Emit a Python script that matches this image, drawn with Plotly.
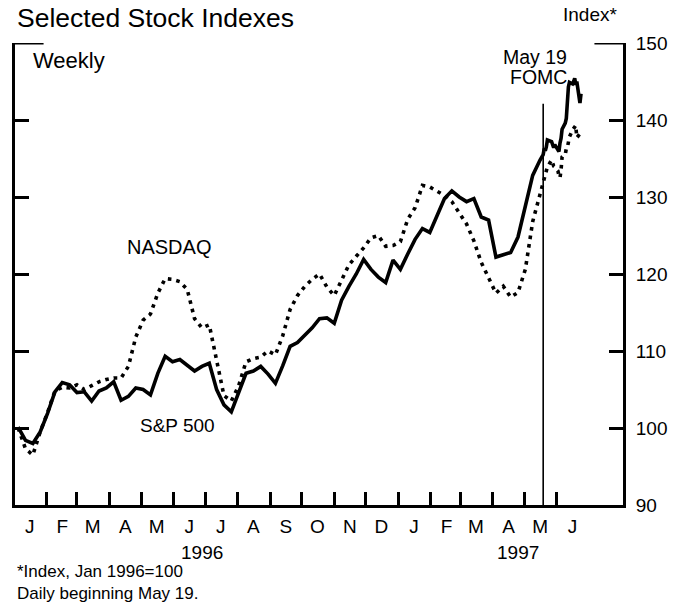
import plotly.graph_objects as go
import pandas as pd

# ---------------- data ----------------
weekly_dates = pd.date_range("1996-01-05", periods=72, freq="7D")

sp500_weekly = [100.1, 98.4, 98.0, 99.5, 101.9, 104.7, 105.9, 105.6, 104.6, 104.7,
                103.5, 104.8, 105.2, 106.0, 103.6, 104.1, 105.2, 105.0, 104.3, 107.1,
                109.3, 108.6, 108.9, 108.2, 107.4, 108.0, 108.4, 105.0, 103.0, 102.1,
                104.5, 107.1, 107.4, 108.0, 107.0, 105.8, 108.1, 110.6, 111.1, 112.0,
                113.0, 114.2, 114.3, 113.6, 116.6, 118.4, 120.0, 121.9, 120.6, 119.6,
                118.9, 121.8, 120.6, 122.6, 124.5, 125.9, 125.4, 127.6, 129.8, 130.8,
                130.0, 129.4, 129.8, 127.4, 127.0, 122.2, 122.5, 122.8, 124.8, 128.6,
                132.8, 134.8]

nasdaq_weekly = [100.0, 97.3, 96.5, 99.5, 102.0, 104.8, 105.3, 105.2, 105.6, 105.0,
                 105.5, 106.0, 106.3, 106.5, 106.5, 108.0, 111.8, 114.0, 114.8, 117.5,
                 119.4, 119.3, 119.0, 118.0, 114.2, 113.0, 113.4, 108.6, 104.2, 103.5,
                 105.5, 108.6, 109.0, 109.2, 110.0, 109.5, 112.0, 115.4, 117.2, 118.4,
                 119.3, 120.0, 118.3, 117.2, 119.1, 121.2, 122.3, 123.4, 124.7, 125.0,
                 123.6, 123.7, 124.2, 127.1, 128.6, 131.5, 131.3, 130.8, 130.2, 129.4,
                 127.9, 126.5, 124.3, 121.5, 119.5, 117.5, 118.4, 117.0, 117.6, 120.6,
                 126.8, 130.3]

daily_dates = ["1997-05-19", "1997-05-20", "1997-05-21", "1997-05-22", "1997-05-23",
               "1997-05-27", "1997-05-28", "1997-05-29", "1997-05-30",
               "1997-06-02", "1997-06-03", "1997-06-04", "1997-06-05", "1997-06-06",
               "1997-06-09", "1997-06-10", "1997-06-11", "1997-06-12", "1997-06-13",
               "1997-06-16", "1997-06-17", "1997-06-18", "1997-06-19", "1997-06-20",
               "1997-06-23", "1997-06-24"]

sp500_daily = [135.5, 136.3, 136.0, 136.5, 137.4,
               137.2, 136.8, 136.4, 136.8,
               136.1, 135.9, 137.0, 137.6, 138.8,
               139.6, 140.2, 142.8, 144.3, 144.9,
               144.7, 145.0, 145.4, 144.6, 145.0,
               142.2, 143.4]

nasdaq_daily = [131.5, 132.2, 132.8, 133.3, 133.9,
                134.8, 134.3, 134.0, 133.9,
                133.4, 132.8, 132.5, 133.5, 135.2,
                135.5, 136.3, 136.4, 137.2, 137.8,
                138.7, 138.9, 139.1, 139.3, 137.7,
                138.2, 138.7]

month_letters = ["J", "F", "M", "A", "M", "J", "J", "A", "S", "O", "N", "D",
                 "J", "F", "M", "A", "M", "J"]
month_starts = pd.date_range("1996-01-01", periods=18, freq="MS")
month_label_pos = [d + pd.Timedelta(days=15) for d in month_starts]
month_tick_pos = list(month_starts[1:])

y_ticks = [90, 100, 110, 120, 130, 140, 150]
fomc_date = "1997-05-19"

x_range = ["1996-01-02", "1997-08-03"]
FONT = "Liberation Sans, Arial, Helvetica, sans-serif"

# ---------------- figure ----------------
sp_x = list(weekly_dates) + list(pd.to_datetime(daily_dates))
sp_y = sp500_weekly + sp500_daily
nq_y = nasdaq_weekly + nasdaq_daily

fig = go.Figure()
fig.add_trace(go.Scatter(x=sp_x, y=nq_y, mode="lines",
                         line=dict(color="black", width=3.6, dash="3.6px,5px"),
                         hoverinfo="skip", showlegend=False))
fig.add_trace(go.Scatter(x=sp_x, y=sp_y, mode="lines",
                         line=dict(color="black", width=3.6),
                         hoverinfo="skip", showlegend=False))
# invisible trace carrying the month-letter axis
fig.add_trace(go.Scatter(x=month_label_pos, y=[95] * len(month_label_pos),
                         xaxis="x2", mode="markers", marker=dict(opacity=0),
                         hoverinfo="skip", showlegend=False))

fig.update_layout(
    width=689, height=606, autosize=False,
    margin=dict(l=12, r=66, t=43, b=101, pad=0),
    paper_bgcolor="white", plot_bgcolor="white",
    font=dict(family=FONT, color="black"),
    hovermode=False,
    xaxis=dict(type="date", range=x_range, showline=True, linewidth=3,
               linecolor="black", ticks="inside", ticklen=13, tickwidth=3,
               tickcolor="black", tickmode="array", tickvals=month_tick_pos,
               showticklabels=False, showgrid=False, zeroline=False,
               fixedrange=True),
    xaxis2=dict(type="date", range=x_range, overlaying="x", anchor="y",
                side="bottom", showline=False, ticks="", tickmode="array",
                tickvals=month_label_pos, ticktext=month_letters,
                tickfont=dict(size=19, family=FONT, color="black"),
                ticklabelstandoff=8, showgrid=False, zeroline=False),
    yaxis=dict(range=[90, 150], side="right", showline=True, linewidth=3,
               linecolor="black", mirror="ticks", ticks="inside", ticklen=14,
               tickwidth=3, tickcolor="black", tickmode="array",
               tickvals=y_ticks, tickfont=dict(size=19, family=FONT, color="black"),
               ticklabelstandoff=6, showgrid=False, zeroline=False),
)

# longer corner stubs at 150 and FOMC marker line
fig.add_shape(type="line", xref="paper", yref="y", x0=0, x1=0.047, y0=150, y1=150,
              line=dict(color="black", width=3))
fig.add_shape(type="line", xref="paper", yref="y", x0=0.953, x1=1, y0=150, y1=150,
              line=dict(color="black", width=3))
fig.add_shape(type="line", xref="x", yref="y", x0=fomc_date, x1=fomc_date,
              y0=90, y1=142.1, line=dict(color="black", width=1.6))

def ann(text, x, y, size, xanchor="center", xref="paper", yref="paper"):
    fig.add_annotation(text=text, x=x, y=y, xref=xref, yref=yref,
                       xanchor=xanchor, yanchor="middle", showarrow=False,
                       font=dict(size=size, family=FONT, color="black"))

ann("Selected Stock Indexes", 0.0, 1.054, 26.5, xanchor="left")
ann("Index*", 0.946, 1.061, 19)
ann("Weekly", 0.026, 0.963, 22, xanchor="left")
ann("May 19", 0.911, 0.970, 19.5, xanchor="right")
ann("FOMC", 0.911, 0.926, 19.5, xanchor="right")
ann("NASDAQ", 0.254, 0.558, 20)
ann("S&P 500", 0.268, 0.171, 19)
ann("1996", "1996-06-28", -0.102, 19, xref="x")
ann("1997", "1997-04-25", -0.102, 19, xref="x")
ann("*Index, Jan 1996=100", 0.0, -0.143, 17, xanchor="left")
ann("Daily beginning May 19.", 0.0, -0.191, 17, xanchor="left")

# remove the default page margin so the figure sits at the window's corner
fig.write_html("out.html", config={"displayModeBar": False, "staticPlot": True},
               post_script="document.body.style.margin='0px';")
